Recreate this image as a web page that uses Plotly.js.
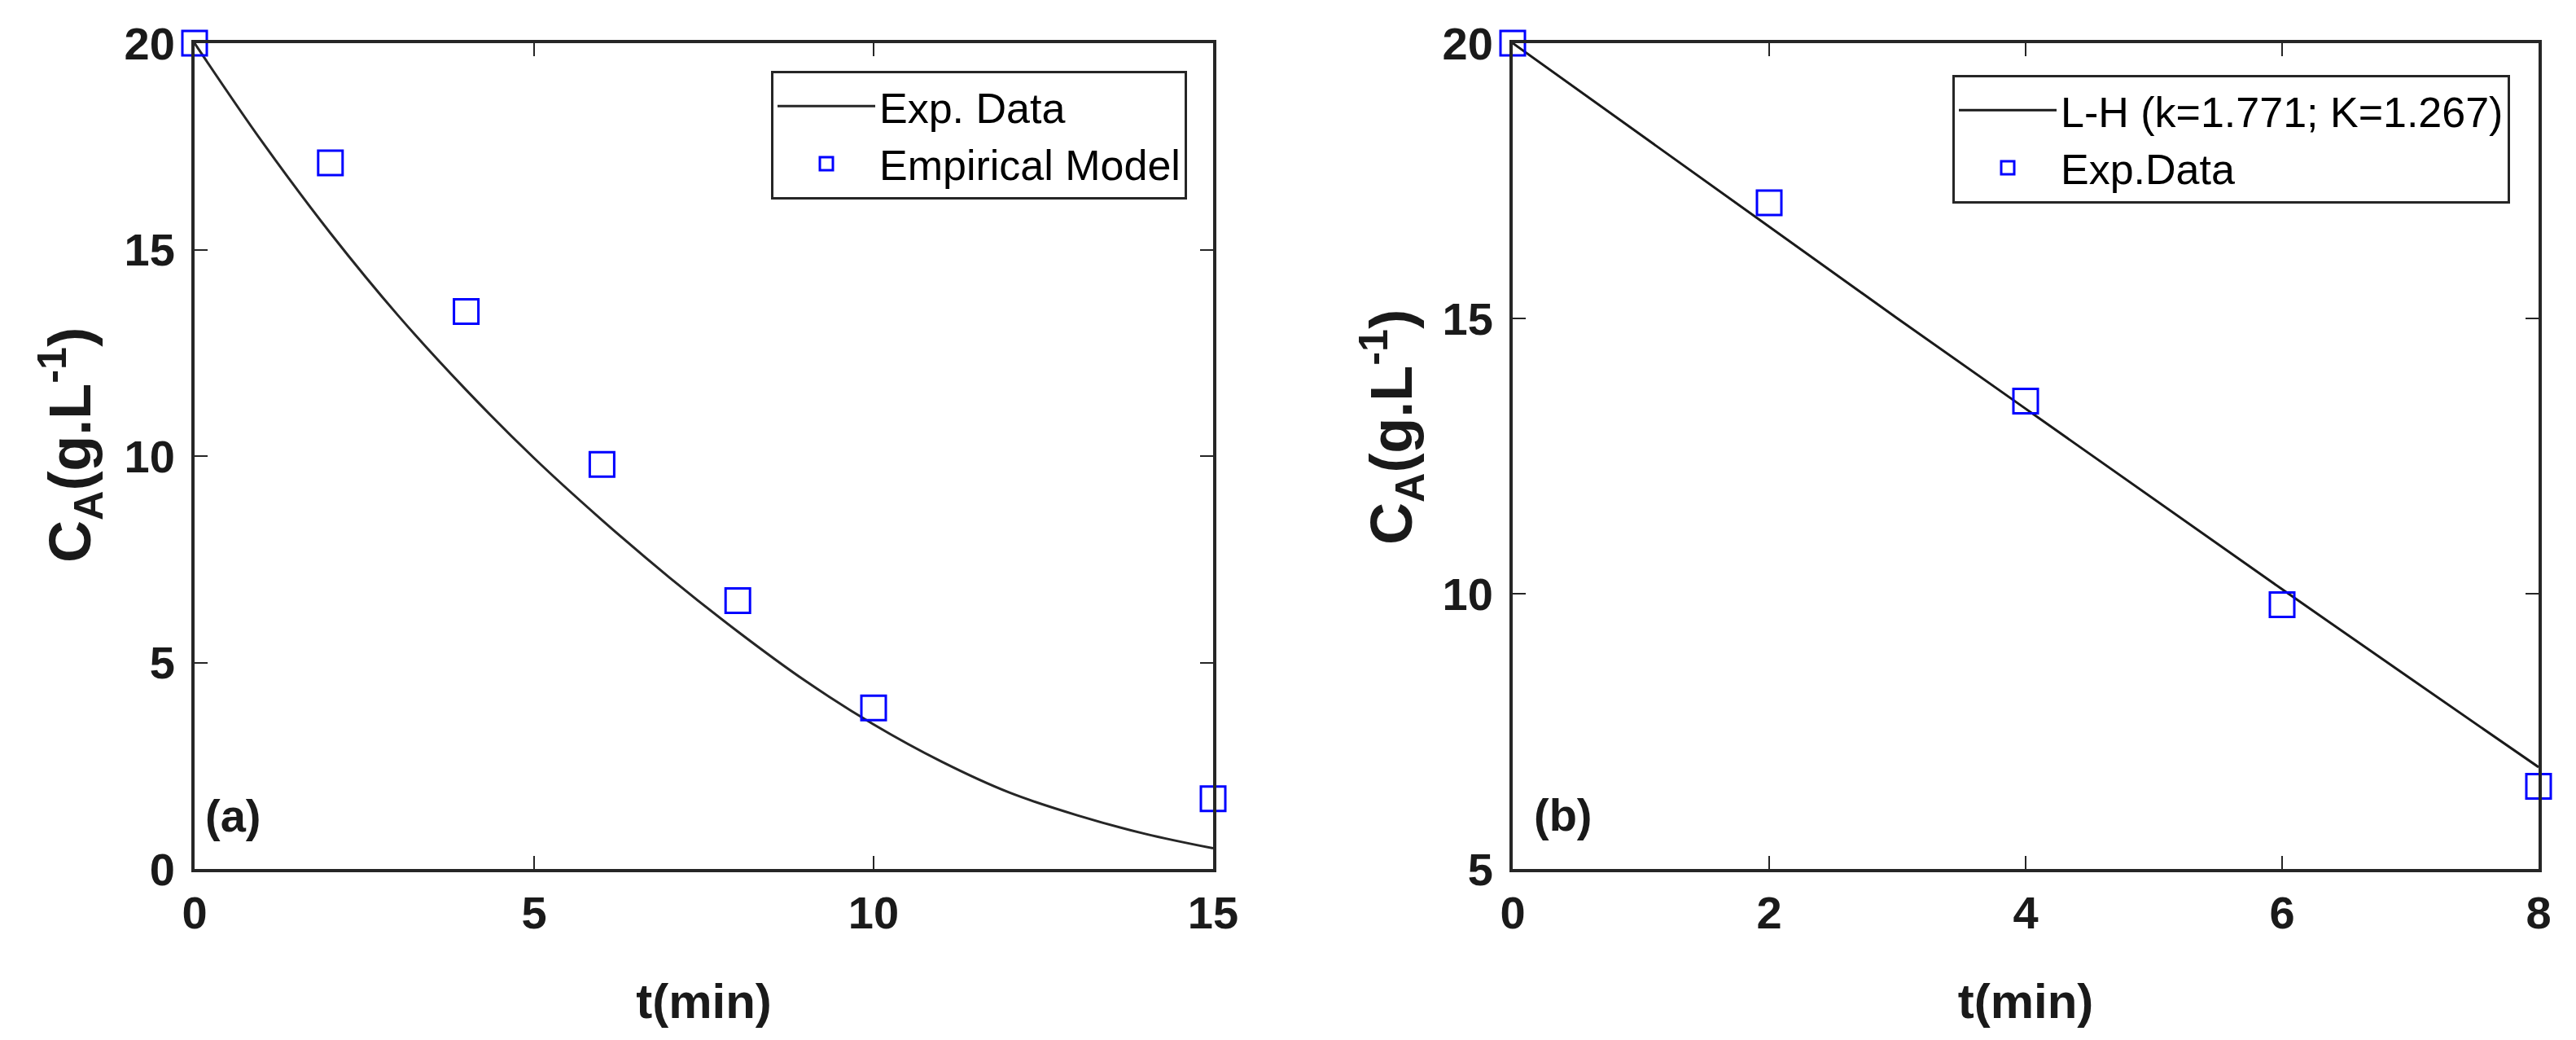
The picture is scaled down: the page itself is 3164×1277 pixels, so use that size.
<!DOCTYPE html>
<html>
<head>
<meta charset="utf-8">
<script src="https://cdn.plot.ly/plotly-3.0.1.min.js"></script>
<style>
  html, body { margin: 0; padding: 0; background: #ffffff; overflow: hidden; }
  #chart { width: 3164px; height: 1277px; }
</style>
</head>
<body>
<div id="chart"></div>
<script>
// ---------- Panel (a) data ----------
const tExpA = [0, 2, 4, 6, 8, 10, 15];
const cExpA = [20, 17.1, 13.5, 9.8, 6.5, 3.9, 1.7];
const tCurveA = [0, 1, 2, 3, 4, 5, 6, 7, 8, 9, 10, 11, 12, 13, 14, 15];
const cCurveA = [20, 17.6, 15.4, 13.4, 11.6, 9.95, 8.45, 7.05, 5.75, 4.55, 3.5, 2.6, 1.85, 1.3, 0.85, 0.5];
const xTicksA = [0, 5, 10, 15];
const yTicksA = [0, 5, 10, 15, 20];

// ---------- Panel (b) data ----------
const tExpB = [0, 2, 4, 6, 8];
const cExpB = [20, 17.1, 13.5, 9.8, 6.5];
const tLineB = [0, 1, 2, 3, 4, 5, 6, 7, 8];
const cLineB = [20, 18.33, 16.67, 15.0, 13.36, 11.72, 10.08, 8.46, 6.85];
const xTicksB = [0, 2, 4, 6, 8];
const yTicksB = [5, 10, 15, 20];

// ---------- Labels ----------
const legendA = ["Exp. Data", "Empirical Model"];
const legendB = ["L-H (k=1.771; K=1.267)", "Exp.Data"];
const xTitle = "t(min)";
const yTitle = "C<sub>A</sub>(g.L<sup>-1</sup>)";
const panelLabels = ["(a)", "(b)"];

const W = 3164, H = 1277;
const FONT = "Liberation Sans, Arial, Helvetica, sans-serif";
const px = v => v / W;
const py = v => 1 - v / H;

const markerStyle = {
  symbol: "square-open",
  size: 30,
  color: "#0000ff",
  line: { width: 3, color: "#0000ff" }
};

const traces = [
  {
    x: tCurveA, y: cCurveA, type: "scatter", mode: "lines",
    name: legendA[0], line: { color: "#262626", width: 3, shape: "spline", smoothing: 1 },
    xaxis: "x", yaxis: "y", legend: "legend", cliponaxis: false
  },
  {
    x: tExpA, y: cExpA, type: "scatter", mode: "markers",
    name: legendA[1], marker: markerStyle,
    xaxis: "x", yaxis: "y", legend: "legend", cliponaxis: false
  },
  {
    x: tLineB, y: cLineB, type: "scatter", mode: "lines",
    name: legendB[0], line: { color: "#1a1a1a", width: 3 },
    xaxis: "x2", yaxis: "y2", legend: "legend2", cliponaxis: false
  },
  {
    x: tExpB, y: cExpB, type: "scatter", mode: "markers",
    name: legendB[1], marker: markerStyle,
    xaxis: "x2", yaxis: "y2", legend: "legend2", cliponaxis: false
  }
];

const titleFont = { family: FONT, size: 60, color: "#1a1a1a", weight: "bold" };

function axisBase(extra) {
  return Object.assign({
    tickmode: "array",
    ticks: "inside",
    ticklen: 16,
    tickwidth: 2,
    tickcolor: "#262626",
    showline: true,
    linecolor: "#262626",
    linewidth: 4,
    mirror: "ticks",
    showgrid: false,
    zeroline: false,
    fixedrange: true,
    automargin: false,
    tickfont: { family: FONT, size: 56, color: "#1a1a1a", weight: "bold" }
  }, extra);
}

const yDomain = [1 - 1067 / H, 1 - 53 / H];

const legendCommon = {
  bgcolor: "#ffffff",
  bordercolor: "#262626",
  borderwidth: 3,
  font: { family: FONT, size: 52, color: "#000000" },
  itemwidth: 120,
  xanchor: "right",
  yanchor: "top",
  traceorder: "normal"
};

const layout = {
  width: W,
  height: H,
  autosize: false,
  margin: { l: 0, r: 0, t: 0, b: 0, pad: 0 },
  paper_bgcolor: "#ffffff",
  plot_bgcolor: "#ffffff",
  showlegend: true,
  xaxis: axisBase({ domain: [px(239), px(1490)], range: [0, 15], tickvals: xTicksA, anchor: "y",
    ticklabelstandoff: 2, title: { text: xTitle, font: titleFont, standoff: 58 } }),
  yaxis: axisBase({ domain: yDomain, range: [0, 20], tickvals: yTicksA, anchor: "x", ticklabelstandoff: 9 }),
  xaxis2: axisBase({ domain: [px(1858), px(3118)], range: [0, 8], tickvals: xTicksB, anchor: "y2",
    ticklabelstandoff: 2, title: { text: xTitle, font: titleFont, standoff: 58 } }),
  yaxis2: axisBase({ domain: yDomain, range: [5, 20], tickvals: yTicksB, anchor: "x2", ticklabelstandoff: 9 }),
  legend: Object.assign({}, legendCommon, { x: px(1458), y: py(87) }),
  legend2: Object.assign({}, legendCommon, { x: px(3083), y: py(92) }),
  annotations: [
    { text: yTitle, xref: "paper", yref: "paper", x: px(86), y: py(547),
      xanchor: "center", yanchor: "middle", showarrow: false, textangle: -90,
      font: { family: FONT, size: 72, color: "#1a1a1a", weight: "bold" } },
    { text: yTitle, xref: "paper", yref: "paper", x: px(1709), y: py(525),
      xanchor: "center", yanchor: "middle", showarrow: false, textangle: -90,
      font: { family: FONT, size: 72, color: "#1a1a1a", weight: "bold" } },
    { text: panelLabels[0], xref: "paper", yref: "paper", x: px(250), y: py(1001),
      xanchor: "left", yanchor: "middle", showarrow: false,
      font: { family: FONT, size: 56, color: "#1a1a1a", weight: "bold" } },
    { text: panelLabels[1], xref: "paper", yref: "paper", x: px(1882), y: py(1000),
      xanchor: "left", yanchor: "middle", showarrow: false,
      font: { family: FONT, size: 56, color: "#1a1a1a", weight: "bold" } }
  ]
};

Plotly.newPlot("chart", traces, layout, { displayModeBar: false, staticPlot: true });
</script>
</body>
</html>
